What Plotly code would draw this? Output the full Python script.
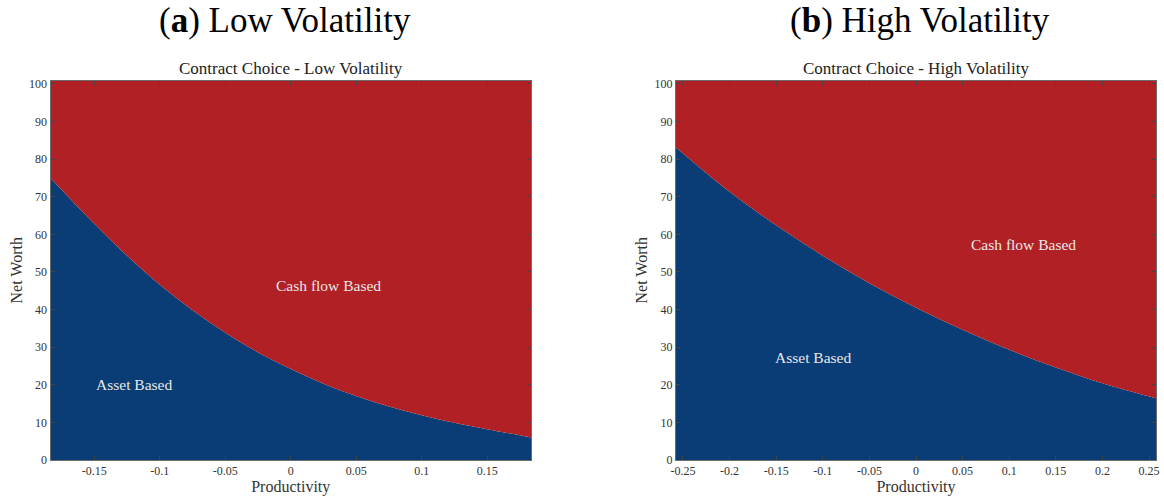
import plotly.graph_objects as go

# ---- data ----
low_x = [-0.1835, -0.15, -0.125, -0.1, -0.075, -0.05, -0.025, 0.0, 0.025, 0.05, 0.075, 0.1, 0.125, 0.15, 0.1835]
low_y = [75.0, 62.8, 54.3, 46.6, 39.8, 33.8, 28.6, 24.2, 20.3, 17.0, 14.2, 11.9, 9.9, 8.2, 6.0]

high_x = [-0.2575, -0.2, -0.15, -0.1, -0.05, 0.0, 0.05, 0.1, 0.15, 0.2, 0.2575]
high_y = [83.1, 71.3, 62.4, 54.3, 47.0, 40.5, 34.6, 29.3, 24.6, 20.4, 16.4]

low_ticks = [-0.15, -0.1, -0.05, 0, 0.05, 0.1, 0.15]
low_tick_text = ["-0.15", "-0.1", "-0.05", "0", "0.05", "0.1", "0.15"]
high_ticks = [-0.25, -0.2, -0.15, -0.1, -0.05, 0, 0.05, 0.1, 0.15, 0.2, 0.25]
high_tick_text = ["-0.25", "-0.2", "-0.15", "-0.1", "-0.05", "0", "0.05", "0.1", "0.15", "0.2", "0.25"]
y_ticks = [0, 10, 20, 30, 40, 50, 60, 70, 80, 90, 100]
Y_MAX = 100.9

region_labels = ["Asset Based", "Cash flow Based"]
low_label_pos = [(-0.12, 20.2), (0.029, 46.3)]
high_label_pos = [(-0.11, 27.3), (0.1154, 57.3)]

BLUE = "#0A3D75"
RED = "#B02024"
FONT = "Liberation Serif"

W, H = 1164, 500

def px_x(p):
    return p / W

def px_y(p):
    return 1 - p / H

fig = go.Figure()

for xs, ys, xa, ya in [(low_x, low_y, "x", "y"), (high_x, high_y, "x2", "y2")]:
    fig.add_trace(go.Scatter(x=xs, y=ys, mode="lines", line=dict(color=BLUE, width=0, shape="spline"),
                             fill="tozeroy", fillcolor=BLUE, xaxis=xa, yaxis=ya, hoverinfo="skip",
                             showlegend=False))
    fig.add_trace(go.Scatter(x=xs, y=[Y_MAX] * len(xs), mode="lines", line=dict(color=RED, width=0),
                             fill="tonexty", fillcolor=RED, xaxis=xa, yaxis=ya, hoverinfo="skip",
                             showlegend=False))

ydom = [px_y(460), px_y(80.5)]
axis_common = dict(showgrid=False, zeroline=False, showline=True, linecolor="#6b6b6b", linewidth=1,
                   mirror="ticks", ticks="inside", ticklen=4, tickcolor="#444444", automargin=False,
                   tickfont=dict(family=FONT, size=12, color="#333333"))
title_font = dict(family=FONT, size=16, color="#333333")

fig.update_layout(
    width=W, height=H,
    margin=dict(l=0, r=0, t=0, b=0),
    paper_bgcolor="white",
    plot_bgcolor="white",
    font=dict(family=FONT),
    xaxis=dict(domain=[px_x(50.5), px_x(531)], range=[low_x[0], low_x[-1]],
               tickvals=low_ticks, ticktext=low_tick_text, anchor="y",
               title=dict(text="Productivity", font=title_font, standoff=3),
               **axis_common),
    yaxis=dict(domain=ydom, range=[0, Y_MAX], tickvals=y_ticks, anchor="x",
               title=dict(text="Net Worth", font=title_font, standoff=2),
               **axis_common),
    xaxis2=dict(domain=[px_x(676), px_x(1156)], range=[high_x[0], high_x[-1]],
                tickvals=high_ticks, ticktext=high_tick_text, anchor="y2",
                title=dict(text="Productivity", font=title_font, standoff=3),
                **axis_common),
    yaxis2=dict(domain=ydom, range=[0, Y_MAX], tickvals=y_ticks, anchor="x2",
                title=dict(text="Net Worth", font=title_font, standoff=2),
                **axis_common),
)

annotations = []
# big panel titles
annotations.append(dict(text="(<b>a</b>) Low Volatility", x=px_x(285), y=px_y(20), xref="paper", yref="paper",
                        showarrow=False, font=dict(family=FONT, size=35, color="black"),
                        xanchor="center", yanchor="middle"))
annotations.append(dict(text="(<b>b</b>) High Volatility", x=px_x(920), y=px_y(20), xref="paper", yref="paper",
                        showarrow=False, font=dict(family=FONT, size=35, color="black"),
                        xanchor="center", yanchor="middle"))
# subplot titles
annotations.append(dict(text="Contract Choice - Low Volatility", x=px_x(291), y=px_y(68), xref="paper",
                        yref="paper", showarrow=False, font=dict(family=FONT, size=17, color="#222222"),
                        xanchor="center", yanchor="middle"))
annotations.append(dict(text="Contract Choice - High Volatility", x=px_x(916), y=px_y(68), xref="paper",
                        yref="paper", showarrow=False, font=dict(family=FONT, size=17, color="#222222"),
                        xanchor="center", yanchor="middle"))
# region labels
for (lx, ly), txt in zip(low_label_pos, region_labels):
    annotations.append(dict(text=txt, x=lx, y=ly, xref="x", yref="y", showarrow=False,
                            font=dict(family=FONT, size=15.5, color="#e8e8e8"), xanchor="center", yanchor="middle"))
for (lx, ly), txt in zip(high_label_pos, region_labels):
    annotations.append(dict(text=txt, x=lx, y=ly, xref="x2", yref="y2", showarrow=False,
                            font=dict(family=FONT, size=15.5, color="#e8e8e8"), xanchor="center", yanchor="middle"))

fig.update_layout(annotations=annotations)

fig.write_html("out.html")
